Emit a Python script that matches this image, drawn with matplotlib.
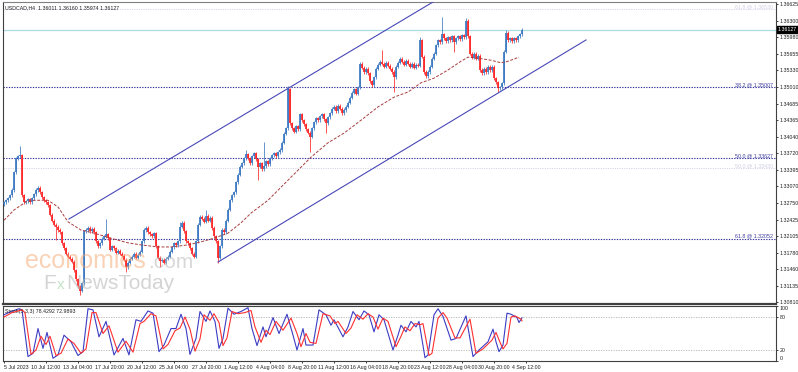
"""
USDCAD H4 - canal alcista con Fibonacci y estocastico (estilo MT4)
"""

import numpy as np
import matplotlib
matplotlib.use('Agg')
import matplotlib.pyplot as plt
import matplotlib.transforms as mtransforms

W, H = 798, 372

plt.rcParams['font.family'] = ['Liberation Sans', 'DejaVu Sans']

# cierres H4 en pips sobre 1.3000 (una barra cada 4 horas, desde 5 Jul 2023)
close_pips = [
    276, 280, 284, 290, 300, 335, 362, 366, 368, 290, 276, 278, 282, 276, 284, 292, 300, 304, 296, 286,
    280, 276, 270, 252, 240, 232, 228, 222, 218, 196, 186, 176, 170, 166, 160, 144, 126, 112, 104, 118,
    220, 222, 226, 220, 224, 218, 200, 190, 196, 205, 210, 214, 206, 184, 190, 186, 178, 182, 176, 172,
    164, 150, 158, 166, 170, 176, 168, 174, 180, 200, 222, 226, 218, 214, 210, 216, 190, 168, 162, 164,
    158, 166, 170, 180, 188, 196, 192, 200, 228, 236, 220, 200, 196, 186, 176, 170, 200, 232, 248, 244,
    238, 250, 240, 246, 226, 210, 200, 168, 190, 222, 218, 240, 262, 280, 290, 296, 315, 330, 345, 352,
    362, 370, 362, 352, 366, 372, 360, 345, 352, 340, 346, 356, 350, 362, 368, 372, 366, 374, 378, 392,
    410, 420, 496, 430, 420, 414, 424, 418, 448, 436, 428, 418, 412, 404, 420, 432, 440, 436, 444, 448,
    438, 430, 442, 450, 458, 462, 454, 464, 458, 450, 456, 462, 470, 480, 490, 496, 488, 500, 546, 538,
    530, 536, 528, 512, 504, 520, 536, 544, 550, 546, 540, 548, 542, 536, 530, 520, 540, 548, 556, 550,
    544, 552, 546, 540, 546, 538, 544, 542, 592, 560, 530, 522, 530, 540, 556, 566, 582, 592, 588, 604,
    596, 590, 598, 592, 600, 588, 596, 600, 594, 602, 598, 630, 600, 566, 558, 566, 556, 562, 534, 528,
    536, 530, 540, 534, 540, 518, 510, 498, 500, 508, 570, 606, 592, 596, 590, 596, 592, 600, 604, 612.7,
]
first_open_pips = 272

# mechas destacadas (pips)
high_pips = {8: 386, 51: 244, 88: 238, 101: 261, 121: 378, 130: 394, 142: 503, 189: 573,
             208: 598, 219: 637, 231: 635, 251: 612, 259: 616}
low_pips = {26: 202, 38: 95, 61: 140, 78: 150, 107: 158, 127: 320, 153: 374, 161: 411,
            195: 491, 225: 569, 247: 491}

# media movil (barra, pips)
ma_bars = [0, 5, 11, 15, 22, 27, 32, 38.5, 45, 53.5, 62, 68.5, 77, 83.5, 92, 98.5, 105, 112,
           118.5, 123.5, 132, 143.5, 153.5, 162, 170, 178.5, 187, 195, 202, 208.5, 215, 222,
           228.5, 232, 237, 243.5, 248.5, 252, 257.5]
ma_pips = [241, 261, 277, 280, 280, 267, 238, 222, 216, 206, 197, 193, 189, 189, 193, 199, 206, 216,
           236, 255, 280, 325, 364, 392, 411, 436, 462, 481, 491, 509, 518, 534,
           551, 559, 557, 553, 548, 551, 559]

# estocastico (5,3,3): linea principal y senal
stoch_k_bars = [0, 3.5, 7.5, 9, 12, 14.5, 17, 19.5, 21.5, 24.5, 27, 30, 33.5, 37, 39.5, 42, 44.5,
                47.5, 51, 55, 59.5, 62.5, 66, 68.5, 72, 74.5, 77.5, 80, 83.5, 86, 88.5, 91, 93,
                96, 98, 101, 103, 105.5, 107.5, 109.5, 112, 115, 118.5, 122, 124, 126.5, 129.5,
                131, 134.5, 137.5, 141.5, 144.5, 146.5, 149.5, 151, 154.5, 157.5, 161, 163.5,
                165, 169.5, 172, 174.5, 177.5, 180, 182.5, 185, 187.5, 190, 194.5, 197, 198.5,
                201, 203.5, 206, 207.5, 210.5, 212, 215, 217, 219.5, 223.5, 226, 231, 234.5,
                237.5, 242, 244.5, 246, 247.5, 249.5, 251.5, 253.5, 256.5, 257.5, 259]
stoch_k = [84, 90, 95, 93, 8, 14, 59, 23, 52, 5, 11, 47, 35, 10, 17, 95, 93,
           44, 72, 11, 41, 11, 75, 72, 91, 87, 17, 29, 59, 59, 85, 59, 12,
           41, 90, 72, 91, 72, 23, 41, 96, 85, 90, 97, 59, 28, 62,
           44, 79, 50, 85, 47, 20, 59, 29, 29, 93, 84, 65,
           75, 44, 62, 90, 75, 91, 84, 53, 84, 75, 20, 47, 65,
           53, 72, 62, 72, 6, 11, 84, 95, 81, 38, 41, 82, 8,
           20, 35, 58, 35, 17, 29, 87, 85, 79, 70, 78.4]
stoch_d_bars = [0, 4, 9, 10.5, 13.5, 16, 18.5, 21, 23, 26, 28.5, 32, 35, 38.5, 41, 44, 46, 49.5,
                52.5, 57, 61, 64.5, 68, 70, 73.5, 76, 79.5, 82, 85.5, 88, 90.5, 93, 95.5, 98, 100,
                103, 105, 107.5, 109.5, 111.5, 114, 117, 120.5, 123.5, 125.5, 128.5, 131, 133,
                136, 139.5, 143.5, 146.5, 148.5, 151, 153, 156, 159.5, 163, 165.5, 167, 171,
                173.5, 176.5, 179.5, 182, 184.5, 187, 189.5, 192, 196, 198.5, 200.5, 203, 205.5,
                208, 209.5, 212.5, 214, 217, 219.5, 221.5, 225.5, 228, 233, 236, 239.5, 244, 246,
                248, 249.5, 251.5, 253.5, 255.5, 258.5, 259]
stoch_d = [80, 88, 93, 88, 12, 20, 45, 30, 45, 10, 14, 40, 32, 14, 22, 88, 88, 50,
           64, 16, 36, 16, 68, 72, 86, 82, 22, 30, 55, 60, 80, 58, 18, 40, 84,
           74, 86, 70, 28, 42, 90, 86, 88, 92, 62, 34, 56, 48,
           72, 56, 78, 50, 26, 50, 34, 32, 86, 82, 68, 72, 50,
           60, 84, 76, 86, 80, 58, 78, 72, 26, 45, 62, 55, 68,
           66, 68, 10, 14, 78, 88, 78, 42, 42, 76, 14, 22, 38, 52,
           34, 22, 32, 80, 82, 76, 73]

# niveles y lineas
price_now = 1.36127
fib_levels = [1.35007, 1.33627, 1.32052]
fib_labels = ['38.2 @ 1.35007', '50.0 @ 1.33627', '61.8 @ 1.32052']
fib_faint = [1.36530, 1.33430]
fib_faint_labels = ['61.8 @ 1.36530', '50.0 @ 1.33430']
chan_upper = [(32.5, 1.32435), (216.0, 1.36700)]
chan_lower = [(107.0, 1.31596), (291.0, 1.35925)]

ytick_labels = ['1.36625', '1.36300', '1.35980', '1.35655', '1.35330', '1.35010', '1.34685',
                '1.34365', '1.34040', '1.33720', '1.33395', '1.33070', '1.32750', '1.32425',
                '1.32105', '1.31780', '1.31460', '1.31135', '1.30810']
xtick_bars = [0, 21, 37, 53, 69, 85, 101, 117, 133, 149, 165, 181, 197, 213, 229, 245, 261]
xtick_labels = ['5 Jul 2023', '10 Jul 12:00', '13 Jul 04:00', '17 Jul 20:00', '20 Jul 12:00',
                '25 Jul 04:00', '27 Jul 20:00', '1 Aug 12:00', '4 Aug 04:00', '8 Aug 20:00',
                '11 Aug 12:00', '16 Aug 04:00', '18 Aug 20:00', '23 Aug 12:00', '28 Aug 04:00',
                '30 Aug 20:00', '4 Sep 12:00']

BULL = '#3b78c2'
BEAR = '#ff2424'
CHAN = '#4848b8'
FS = 3.8
FSY = 3.8
TXT = '#202020'

fig = plt.figure(figsize=(W / 100, H / 100), dpi=100)
ax = fig.add_axes([3 / W, 1 - 304 / H, 773 / W, 302 / H])
ax2 = fig.add_axes([3 / W, 1 - 361 / H, 773 / W, 55 / H], sharex=ax)

# velas
closes = 1.3 + np.array(close_pips) / 10000
opens = np.concatenate([[1.3 + first_open_pips / 10000], closes[:-1]])
n = len(closes)
idx = np.arange(n)
highs = np.maximum(opens, closes) + 0.0003
lows = np.minimum(opens, closes) - 0.0003
for i, v in high_pips.items():
    highs[i] = 1.3 + v / 10000
for i, v in low_pips.items():
    lows[i] = 1.3 + v / 10000
up = closes >= opens
cols = np.where(up, BULL, BEAR)
ax.vlines(idx, lows, highs, colors=cols, linewidth=0.55, zorder=3)
body_lo = np.minimum(opens, closes)
body_hi = np.maximum(np.maximum(opens, closes), body_lo + 0.00008)
ax.vlines(idx, body_lo, body_hi, colors=cols, linewidth=1.25, zorder=4)

# media movil
ax.plot(ma_bars, 1.3 + np.array(ma_pips) / 10000, color='#a83c3c', lw=0.7,
        dashes=(3, 1.6), zorder=5)

# lineas horizontales
ax.axhline(price_now, color='#a9dde6', lw=0.9, zorder=2)
for lvl, lab in zip(fib_levels, fib_labels):
    ax.axhline(lvl, color='#34349a', lw=0.8, ls=(0, (1.2, 1.2)), zorder=2)
    ax.text(384.5, lvl, lab, ha='right', va='bottom', fontsize=FS, color='#3a3a9e', zorder=6)
for lvl, lab in zip(fib_faint, fib_faint_labels):
    ax.axhline(lvl, color='#d6d6ea', lw=0.7, ls=(0, (1.2, 1.2)), zorder=1)
    ax.text(384.5, lvl, lab, ha='right', va='bottom', fontsize=FS, color='#cfcfe6', zorder=1)

# canal
for seg in (chan_upper, chan_lower):
    ax.plot([seg[0][0], seg[1][0]], [seg[0][1], seg[1][1]], color=CHAN, lw=0.8, zorder=5)

ax.set_xlim(-0.5, 386)
ax.set_ylim(1.30778, 1.36665)
ax.yaxis.tick_right()
ax.set_yticks([float(t) for t in ytick_labels], ytick_labels)
ax.tick_params(axis='y', labelsize=FSY, length=1.6, width=0.6, pad=0.8, colors=TXT)
ax.tick_params(axis='x', bottom=False, labelbottom=False)
for s in ax.spines.values():
    s.set_color('#404040')
    s.set_linewidth(0.8)
ax.spines['top'].set_color('#808080')
ax.spines['bottom'].set_linewidth(1.6)

ax.text(2 / 773, 1 - 6 / 302, 'USDCAD,H4  1.36011 1.36160 1.35974 1.36127',
        transform=ax.transAxes, fontsize=FS, color=TXT, va='center', ha='left')

trans = mtransforms.blended_transform_factory(ax.transAxes, ax.transData)
ax.text(1.0 + 2 / 773, price_now, '1.36127', transform=trans, ha='left', va='center',
        fontsize=FSY, color='white', zorder=10, clip_on=False,
        bbox=dict(boxstyle='square,pad=0.15', fc='black', ec='black'))

# estocastico
ax2.plot(stoch_k_bars, stoch_k, color='#3c3cc4', lw=0.8, zorder=3)
ax2.plot(stoch_d_bars, stoch_d, color='#ff3030', lw=0.8, zorder=4)
for lvl in (80, 20):
    ax2.axhline(lvl, color='#b4b4b4', lw=0.6, ls=(0, (1.5, 1.5)), zorder=1)
ax2.set_ylim(0, 100)
ax2.yaxis.tick_right()
ax2.set_yticks([100, 80, 20, 0], ['100', '80', '20', '0'])
ax2.tick_params(axis='y', labelsize=FSY, length=1.6, width=0.6, pad=0.8, colors=TXT)
tl = ax2.get_yticklabels()
tl[0].set_va('top')
tl[3].set_va('bottom')
ax2.set_xticks(xtick_bars, xtick_labels)
ax2.tick_params(axis='x', labelsize=FS, length=1.6, width=0.6, pad=1, colors=TXT)
ax2.get_xticklabels()[0].set_ha('left')
for s in ax2.spines.values():
    s.set_color('#404040')
    s.set_linewidth(0.8)
ax2.text(2 / 773, 1 - 6 / 55, 'Stoch(5,3,3) 78.4292 72.9893', transform=ax2.transAxes,
         fontsize=FS, color=TXT, va='center', ha='left')

# marca de agua
fig.text(25 / W, 1 - 268 / H, 'economies', fontsize=18,
         color='#f5a66e', alpha=0.5, ha='left', va='baseline')
fig.text(148 / W, 1 - 268 / H, '.com', fontsize=15,
         color='#b8b8b8', alpha=0.55, ha='left', va='baseline')
fig.text(43 / W, 1 - 289 / H, 'F', fontsize=15,
         color='#b8b8b8', alpha=0.6, ha='left', va='baseline')
fig.text(57 / W, 1 - 289 / H, 'x', fontsize=11,
         color='#9fd09f', alpha=0.6, ha='left', va='baseline')
fig.text(66 / W, 1 - 289 / H, 'NewsToday', fontsize=15,
         color='#b8b8b8', alpha=0.6, ha='left', va='baseline')

fig.savefig('out.png', dpi=100)
plt.close(fig)
